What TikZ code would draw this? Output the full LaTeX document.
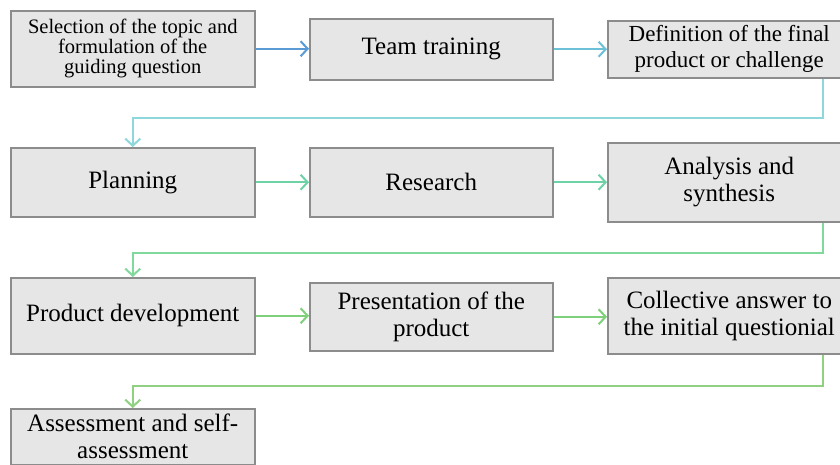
\documentclass[tikz,border=0pt]{standalone}
\usepackage{fontspec}
\setmainfont{Liberation Serif}
\usetikzlibrary{arrows.meta,calc}
\definecolor{boxfill}{HTML}{E6E6E6}
\definecolor{boxline}{HTML}{8C8C8C}
\definecolor{cA}{HTML}{5B9BD5}
\definecolor{cB}{HTML}{6CC0D8}
\definecolor{cC}{HTML}{8ED8DC}
\definecolor{cD}{HTML}{6DD3A6}
\definecolor{cE}{HTML}{80D99A}
\definecolor{cF}{HTML}{7ED07A}
\definecolor{cG}{HTML}{8FD081}
\begin{document}
\begin{tikzpicture}[x=1pt,y=-1pt,
  stepbox/.style={draw=boxline, line width=1.5pt, fill=boxfill, anchor=north west, inner sep=0pt, align=center, text=black, font=\fontsize{25}{27}\selectfont},
  arr/.style={line width=2pt, -{Straight Barb[length=7pt,width=15pt,line width=2pt]}}
]
\useasboundingbox (0,0) rectangle (840,464);
\clip (0,0) rectangle (840,464);
\fill[white] (0,0) rectangle (840,464);
% row 1
\node[stepbox, minimum width=244, minimum height=76, font=\fontsize{20.5}{20}\selectfont] (sel) at (10,10) {Selection of the topic and\\formulation of the\\guiding question};
\node[stepbox, minimum width=243, minimum height=61] (team) at (309,18) {Team training};
\node[stepbox, minimum width=243, minimum height=57, font=\fontsize{23}{26}\selectfont] (def) at (607,20) {Definition of the final\\product or challenge};
% row 2
\node[stepbox, minimum width=244, minimum height=69] (plan) at (10,147) {Planning};
\node[stepbox, minimum width=243, minimum height=69] (res) at (309,147) {Research};
\node[stepbox, minimum width=243, minimum height=79] (ana) at (607,142) {Analysis and\\synthesis};
% row 3
\node[stepbox, minimum width=244, minimum height=76] (prod) at (10,277) {Product development};
\node[stepbox, minimum width=243, minimum height=68] (pres) at (309,282) {Presentation of the\\product};
\node[stepbox, minimum width=243, minimum height=76] (col) at (607,277) {Collective answer to\\the initial questionial};
% row 4
\node[stepbox, minimum width=244, minimum height=56] (ass) at (10,408) {Assessment and self-\\assessment};
% turn points
\coordinate (m1) at (0,118);
\coordinate (m2) at (0,253);
\coordinate (m3) at (0,386);
% arrows row 1
\draw[arr, cA] (sel.east) -- (sel.east -| team.west);
\draw[arr, cB] (team.east) -- (team.east -| def.west);
\draw[arr, cC] ([xshift=94pt]def.south) -- ([xshift=94pt]def.south |- m1) -- (plan.north |- m1) -- (plan.north);
% arrows row 2
\draw[arr, cD] (plan.east) -- (plan.east -| res.west);
\draw[arr, cD] (res.east) -- (res.east -| ana.west);
\draw[arr, cE] ([xshift=94pt]ana.south) -- ([xshift=94pt]ana.south |- m2) -- (prod.north |- m2) -- (prod.north);
% arrows row 3
\draw[arr, cF] (prod.east) -- (prod.east -| pres.west);
\draw[arr, cF] (pres.east) -- (pres.east -| col.west);
\draw[arr, cG] ([xshift=94pt]col.south) -- ([xshift=94pt]col.south |- m3) -- (ass.north |- m3) -- (ass.north);
\end{tikzpicture}
\end{document}
